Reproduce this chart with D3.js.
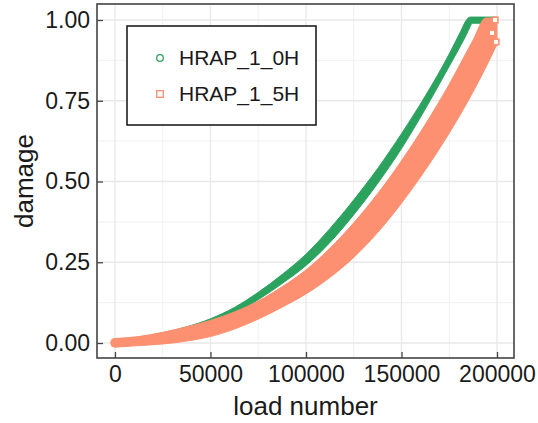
<!DOCTYPE html>
<html>
<head>
<meta charset="utf-8">
<script src="https://cdn.jsdelivr.net/npm/d3@7"></script>
<style>
  html, body { margin: 0; padding: 0; background: #fff; overflow: hidden; }
  svg { display: block; }
  text { font-family: "Liberation Sans", Arial, sans-serif; fill: #1a1a1a; }
</style>
</head>
<body>
<svg id="chart" width="538" height="423"></svg>
<script>
// ---------- data ----------
const seriesNames = ["HRAP_1_0H", "HRAP_1_5H"];
const seriesColors = ["#2ca25f", "#fc9070"];

// HRAP_1_0H : band of points (outer envelope of damage) vs load number
const greenLoad  = [0,      12500, 25000, 37500, 50000, 62500, 75000, 87500, 100000, 112500, 125000, 137500, 150000, 162500, 175000, 181000, 184000, 186000, 187000, 200000];
const greenUpper = [0.012,  0.018, 0.032, 0.050, 0.075, 0.110, 0.157, 0.212, 0.275,  0.354,  0.443,  0.540,  0.648,  0.765,  0.895,  0.965,  1.000,  1.009,  1.009,  1.009];
const greenLower = [-0.010, 0.000, 0.008, 0.025, 0.050, 0.090, 0.134, 0.184, 0.240,  0.311,  0.397,  0.494,  0.602,  0.725,  0.857,  0.921,  0.955,  0.980,  0.990,  0.990];

// HRAP_1_5H : band of points (outer envelope of damage) vs load number
const salmonLoad  = [0,      12500,  25000,  37500, 50000, 62500, 75000, 87500, 100000, 112500, 125000, 137500, 150000, 162500, 175000, 187500, 194000, 200000];
const salmonUpper = [0.014,  0.020,  0.033,  0.050, 0.070, 0.096, 0.130, 0.174, 0.226,  0.293,  0.372,  0.462,  0.564,  0.677,  0.801,  0.938,  1.006,  1.006];
const salmonLower = [-0.013, -0.008, -0.003, 0.006, 0.020, 0.043, 0.074, 0.111, 0.152,  0.203,  0.265,  0.342,  0.433,  0.536,  0.650,  0.778,  0.852,  0.925];

// isolated last points of HRAP_1_5H (open squares)
const salmonEndLoad   = [199000, 197400, 199500];
const salmonEndDamage = [1.0, 0.96, 0.932];

// axes
const xTicks = [0, 50000, 100000, 150000, 200000];
const xMinor = [25000, 75000, 125000, 175000];
const yTicks = [0, 0.25, 0.5, 0.75, 1.0];
const yMinor = [0.125, 0.375, 0.625, 0.875];
const xTitle = "load number";
const yTitle = "damage";

// ---------- layout ----------
const panel = { left: 97, top: 4, right: 514, bottom: 358 };
const svg = d3.select("#chart");

const x = d3.scaleLinear().domain([-9400, 208900]).range([panel.left, panel.right]);
const y = d3.scaleLinear().domain([-0.0464, 1.0495]).range([panel.bottom, panel.top]);

// background
svg.append("rect").attr("x", 0).attr("y", 0).attr("width", 538).attr("height", 423).attr("fill", "#fff");

// grid
const grid = svg.append("g");
grid.selectAll(".xmin").data(xMinor).join("line")
  .attr("x1", d => x(d)).attr("x2", d => x(d)).attr("y1", panel.top).attr("y2", panel.bottom)
  .attr("stroke", "#f0f0f0").attr("stroke-width", 1);
grid.selectAll(".ymin").data(yMinor).join("line")
  .attr("y1", d => y(d)).attr("y2", d => y(d)).attr("x1", panel.left).attr("x2", panel.right)
  .attr("stroke", "#f0f0f0").attr("stroke-width", 1);
grid.selectAll(".xmaj").data(xTicks).join("line")
  .attr("x1", d => x(d)).attr("x2", d => x(d)).attr("y1", panel.top).attr("y2", panel.bottom)
  .attr("stroke", "#e8e8e8").attr("stroke-width", 1.3);
grid.selectAll(".ymaj").data(yTicks).join("line")
  .attr("y1", d => y(d)).attr("y2", d => y(d)).attr("x1", panel.left).attr("x2", panel.right)
  .attr("stroke", "#e8e8e8").attr("stroke-width", 1.3);

// data bands
function bandData(loads, up, lo) {
  return loads.map((l, i) => ({ load: l, up: up[i], lo: lo[i] }));
}
const area = d3.area()
  .x(d => x(d.load)).y0(d => y(d.lo)).y1(d => y(d.up))
  .curve(d3.curveMonotoneX);

const bands = [
  { data: bandData(greenLoad, greenUpper, greenLower), color: seriesColors[0] },
  { data: bandData(salmonLoad, salmonUpper, salmonLower), color: seriesColors[1] }
];
const gData = svg.append("g");
bands.forEach(b => {
  gData.append("path").datum(b.data).attr("d", area)
    .attr("fill", b.color).attr("stroke", b.color).attr("stroke-width", 1)
    .attr("stroke-linejoin", "round");
  // rounded start made by the first marker
  const p = b.data[0];
  gData.append("circle")
    .attr("cx", x(p.load)).attr("cy", (y(p.up) + y(p.lo)) / 2)
    .attr("r", Math.abs(y(p.lo) - y(p.up)) / 2 + 0.4)
    .attr("fill", b.color);
});

// isolated open squares at end of HRAP_1_5H
gData.selectAll(".endsq").data(salmonEndLoad.map((l, i) => ({ load: l, dmg: salmonEndDamage[i] })))
  .join("rect")
  .attr("x", d => x(d.load) - 2.8).attr("y", d => y(d.dmg) - 2.8)
  .attr("width", 5.6).attr("height", 5.6)
  .attr("fill", "#fff").attr("stroke", seriesColors[1]).attr("stroke-width", 1.6);

// panel border
svg.append("rect")
  .attr("x", panel.left).attr("y", panel.top)
  .attr("width", panel.right - panel.left).attr("height", panel.bottom - panel.top)
  .attr("fill", "none").attr("stroke", "#444").attr("stroke-width", 1.6);

// axes (ticks pointing inward)
const fmtY = d3.format(".2f");
const yAxis = svg.append("g").attr("transform", `translate(${panel.left},0)`)
  .call(d3.axisLeft(y).tickValues(yTicks).tickFormat(fmtY).tickSize(-6).tickPadding(7));
const xAxis = svg.append("g").attr("transform", `translate(0,${panel.bottom})`)
  .call(d3.axisBottom(x).tickValues(xTicks).tickFormat(d3.format("d")).tickSize(-6).tickPadding(8));
[yAxis, xAxis].forEach(a => {
  a.select(".domain").remove();
  a.selectAll(".tick line").attr("stroke", "#444").attr("stroke-width", 1.3);
  a.selectAll(".tick text").attr("font-size", 23).attr("fill", "#1a1a1a")
    .style("font-family", '"Liberation Sans", Arial, sans-serif');
});

// axis titles
svg.append("text").attr("x", (panel.left + panel.right) / 2).attr("y", 415)
  .attr("text-anchor", "middle").attr("font-size", 26).text(xTitle);
svg.append("text").attr("transform", `translate(33,${(panel.top + panel.bottom) / 2}) rotate(-90)`)
  .attr("text-anchor", "middle").attr("font-size", 26).text(yTitle);

// legend
const lg = svg.append("g");
lg.append("rect").attr("x", 127).attr("y", 26).attr("width", 189).attr("height", 99)
  .attr("fill", "#fff").attr("stroke", "#111").attr("stroke-width", 1.5);
const legendY = [58, 94];
lg.append("circle").attr("cx", 160).attr("cy", legendY[0]).attr("r", 3.3)
  .attr("fill", "none").attr("stroke", seriesColors[0]).attr("stroke-width", 1.3);
lg.append("rect").attr("x", 156.7).attr("y", legendY[1] - 3.3).attr("width", 6.6).attr("height", 6.6)
  .attr("fill", "none").attr("stroke", seriesColors[1]).attr("stroke-width", 1.3);
seriesNames.forEach((n, i) => {
  lg.append("text").attr("x", 179).attr("y", legendY[i]).attr("dy", "0.35em")
    .attr("font-size", 21).text(n);
});
</script>
</body>
</html>
